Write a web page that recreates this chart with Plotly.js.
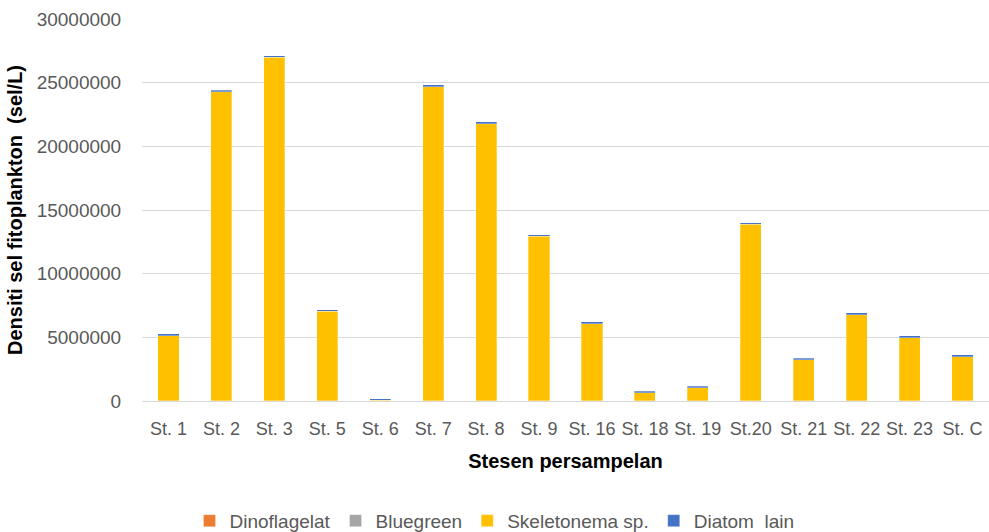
<!DOCTYPE html>
<html>
<head>
<meta charset="utf-8">
<script src="https://cdn.plot.ly/plotly-3.0.1.min.js"></script>
<style>html,body{margin:0;padding:0;background:#fff}#chart{width:989px;height:532px}</style>
</head>
<body>
<div id="chart"></div>
<script>
const stations = ["St. 1","St. 2","St. 3","St. 5","St. 6","St. 7","St. 8","St. 9","St. 16","St. 18","St. 19","St.20","St. 21","St. 22","St. 23","St. C"];
const dinoflagelat = [5000,8000,6000,4000,2000,7000,6000,5000,3000,2000,2000,5000,3000,4000,3000,3000];
const bluegreen = [3000,4000,5000,3000,1000,4000,4000,3000,2000,1000,1000,3000,2000,3000,2000,2000];
const skeletonema = [5130000,24280000,27000000,7030000,40000,24670000,21780000,12930000,6080000,640000,1030000,13880000,3230000,6780000,4980000,3490000];
const diatomLain = [130000,130000,120000,130000,150000,140000,130000,130000,130000,120000,130000,130000,130000,130000,130000,120000];

const colors = {dino:"#ED7D31", blue:"#A5A5A5", skel:"#FFC000", diat:"#4472C4"};
const mk = (c)=>({color:c, line:{color:"rgba(255,255,255,0.6)", width:0.5}});

const traces = [
  {type:"bar", name:"Dinoflagelat", x:stations, y:dinoflagelat, marker:mk(colors.dino)},
  {type:"bar", name:"Bluegreen", x:stations, y:bluegreen, marker:mk(colors.blue)},
  {type:"bar", name:"Skeletonema sp.", x:stations, y:skeletonema, marker:mk(colors.skel)},
  {type:"bar", name:"Diatom  lain", x:stations, y:diatomLain, marker:mk(colors.diat)}
];

const font = "Liberation Sans, Arial, sans-serif";
const layout = {
  width:989, height:532,
  barmode:"stack", bargap:0.6,
  margin:{l:142, r:0, t:19, b:131},
  paper_bgcolor:"#fff", plot_bgcolor:"#fff",
  font:{family:font, color:"#595959", size:18},
  showlegend:true,
  legend:{orientation:"h", xref:"container", yref:"container", x:0.5, xanchor:"center", y:0.021, yanchor:"middle",
          font:{size:19, color:"#595959"}, traceorder:"normal", itemwidth:30},
  xaxis:{
    type:"category", showgrid:false, zeroline:false, showline:false,
    ticks:"outside", ticklen:11, tickcolor:"rgba(0,0,0,0)",
    tickfont:{size:18, color:"#595959"},
    title:{text:"Stesen persampelan", font:{family:font, size:20, color:"#000", weight:"bold"}, standoff:16}
  },
  yaxis:{
    range:[0,30000000], dtick:5000000, tickformat:"d",
    showgrid:true, gridcolor:"#D9D9D9", gridwidth:1, zeroline:true, zerolinecolor:"#D9D9D9", zerolinewidth:1,
    showline:false, ticks:"outside", ticklen:16, tickcolor:"rgba(0,0,0,0)",
    tickfont:{size:19, color:"#595959"},
    title:{text:"Densiti sel fitoplankton  (sel/L)", font:{family:font, size:20, color:"#000", weight:"bold"}, standoff:8}
  }
};
Plotly.newPlot("chart", traces, layout, {displayModeBar:false, staticPlot:true});
</script>
</body>
</html>
